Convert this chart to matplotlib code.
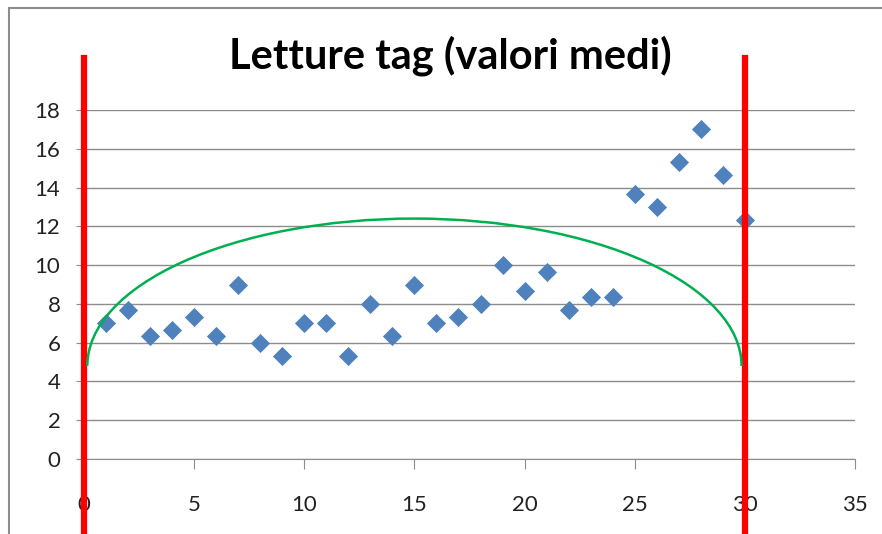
import matplotlib.pyplot as plt
from matplotlib.patches import Arc, Rectangle

# letture medie per tag
x_vals = list(range(1, 31))
y_vals = [7.0, 7.67, 6.33, 6.67, 7.33, 6.33, 9.0, 6.0, 5.33, 7.0,
          7.0, 5.33, 8.0, 6.33, 9.0, 7.0, 7.33, 8.0, 10.0, 8.67,
          9.67, 7.67, 8.33, 8.33, 13.67, 13.0, 15.33, 17.0, 14.67, 12.33]
x_ticks = [0, 5, 10, 15, 20, 25, 30, 35]
y_ticks = [0, 2, 4, 6, 8, 10, 12, 14, 16, 18]
limits = [0, 30]

plt.rcParams['font.family'] = ['Lato', 'DejaVu Sans']

fig = plt.figure(figsize=(8.82, 5.34), dpi=100)
ax = fig.add_axes([84 / 882, 1 - 459 / 534, (855 - 84) / 882, (459 - 110) / 534])

ax.scatter(x_vals, y_vals, marker='D', s=95, color='#4F81BD', zorder=3, linewidths=0)

ax.set_xlim(0, 35)
ax.set_ylim(0, 18)
ax.set_xticks(x_ticks)
ax.set_yticks(y_ticks)
ax.grid(True, axis='y', color='#8c8c8c', linewidth=1.0)
ax.set_axisbelow(True)
for s in ['top', 'right', 'left']:
    ax.spines[s].set_visible(False)
ax.spines['bottom'].set_color('#8c8c8c')
ax.tick_params(axis='x', direction='out', length=7, color='#8c8c8c', pad=19, labelsize=16, labelcolor='#222222')
ax.tick_params(axis='y', direction='out', length=6, color='#8c8c8c', pad=11, labelsize=16, labelcolor='#222222')

# limiti e curva disegnati a mano
for xl in limits:
    ax.plot([xl, xl], [-3.9, 20.7], color='#FF0000', linewidth=4.5, clip_on=False, zorder=5)
arc = Arc((15, 4.8), 29.7, 15.2, theta1=0, theta2=180, color='#00B050', linewidth=1.8, zorder=6)
ax.add_patch(arc)

fig.text(0.51, 1 - 56 / 534, 'Letture tag (valori medi)', ha='center', va='center',
         fontsize=30, fontweight='bold')

fig.patches.append(Rectangle((9 / 882, -0.1), 1.2, 1 - 8 / 534 + 0.1, transform=fig.transFigure,
                             fill=False, edgecolor='#8c8c8c', linewidth=1.5))

plt.savefig('out.png', dpi=100)
